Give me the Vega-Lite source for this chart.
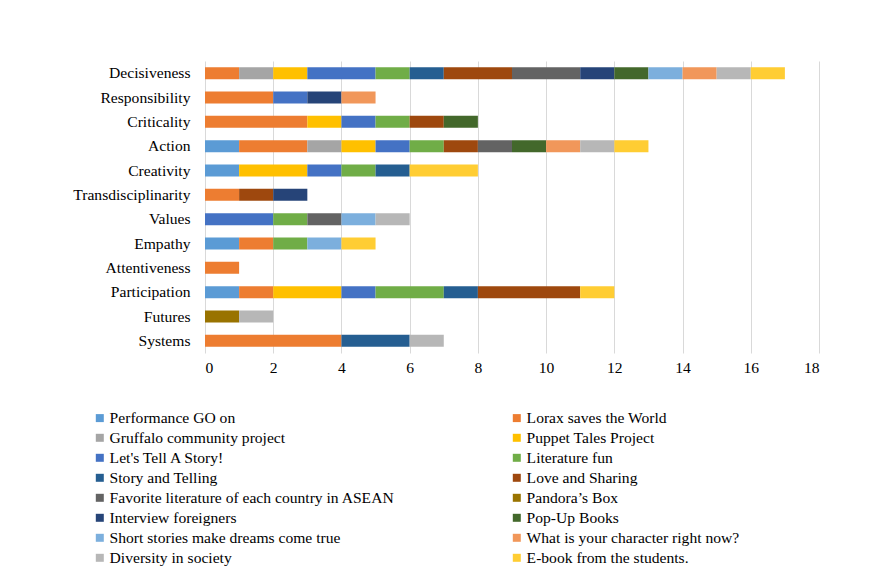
{
  "$schema": "https://vega.github.io/schema/vega-lite/v6.json",
  "autosize": "none",
  "width": 614,
  "height": 292,
  "padding": {"left": 205, "top": 61, "right": 55, "bottom": 224},
  "background": "white",
  "config": {
    "font": "Liberation Serif",
    "view": {"stroke": null}
  },
  "data": {
    "values": [
      {"skill": "Decisiveness", "project": "Lorax saves the World", "k": 2, "n": 1},
      {"skill": "Decisiveness", "project": "Gruffalo community project", "k": 3, "n": 1},
      {"skill": "Decisiveness", "project": "Puppet Tales Project", "k": 4, "n": 1},
      {"skill": "Decisiveness", "project": "Let's Tell A Story!", "k": 5, "n": 2},
      {"skill": "Decisiveness", "project": "Literature fun", "k": 6, "n": 1},
      {"skill": "Decisiveness", "project": "Story and Telling", "k": 7, "n": 1},
      {"skill": "Decisiveness", "project": "Love and Sharing", "k": 8, "n": 2},
      {"skill": "Decisiveness", "project": "Favorite literature of each country in ASEAN", "k": 9, "n": 2},
      {"skill": "Decisiveness", "project": "Interview foreigners", "k": 11, "n": 1},
      {"skill": "Decisiveness", "project": "Pop-Up Books", "k": 12, "n": 1},
      {"skill": "Decisiveness", "project": "Short stories make dreams come true", "k": 13, "n": 1},
      {"skill": "Decisiveness", "project": "What is your character right now?", "k": 14, "n": 1},
      {"skill": "Decisiveness", "project": "Diversity in society", "k": 15, "n": 1},
      {"skill": "Decisiveness", "project": "E-book from the students.", "k": 16, "n": 1},
      {"skill": "Responsibility", "project": "Lorax saves the World", "k": 2, "n": 2},
      {"skill": "Responsibility", "project": "Let's Tell A Story!", "k": 5, "n": 1},
      {"skill": "Responsibility", "project": "Interview foreigners", "k": 11, "n": 1},
      {"skill": "Responsibility", "project": "What is your character right now?", "k": 14, "n": 1},
      {"skill": "Criticality", "project": "Lorax saves the World", "k": 2, "n": 3},
      {"skill": "Criticality", "project": "Puppet Tales Project", "k": 4, "n": 1},
      {"skill": "Criticality", "project": "Let's Tell A Story!", "k": 5, "n": 1},
      {"skill": "Criticality", "project": "Literature fun", "k": 6, "n": 1},
      {"skill": "Criticality", "project": "Love and Sharing", "k": 8, "n": 1},
      {"skill": "Criticality", "project": "Pop-Up Books", "k": 12, "n": 1},
      {"skill": "Action", "project": "Performance GO on", "k": 1, "n": 1},
      {"skill": "Action", "project": "Lorax saves the World", "k": 2, "n": 2},
      {"skill": "Action", "project": "Gruffalo community project", "k": 3, "n": 1},
      {"skill": "Action", "project": "Puppet Tales Project", "k": 4, "n": 1},
      {"skill": "Action", "project": "Let's Tell A Story!", "k": 5, "n": 1},
      {"skill": "Action", "project": "Literature fun", "k": 6, "n": 1},
      {"skill": "Action", "project": "Love and Sharing", "k": 8, "n": 1},
      {"skill": "Action", "project": "Favorite literature of each country in ASEAN", "k": 9, "n": 1},
      {"skill": "Action", "project": "Pop-Up Books", "k": 12, "n": 1},
      {"skill": "Action", "project": "What is your character right now?", "k": 14, "n": 1},
      {"skill": "Action", "project": "Diversity in society", "k": 15, "n": 1},
      {"skill": "Action", "project": "E-book from the students.", "k": 16, "n": 1},
      {"skill": "Creativity", "project": "Performance GO on", "k": 1, "n": 1},
      {"skill": "Creativity", "project": "Puppet Tales Project", "k": 4, "n": 2},
      {"skill": "Creativity", "project": "Let's Tell A Story!", "k": 5, "n": 1},
      {"skill": "Creativity", "project": "Literature fun", "k": 6, "n": 1},
      {"skill": "Creativity", "project": "Story and Telling", "k": 7, "n": 1},
      {"skill": "Creativity", "project": "E-book from the students.", "k": 16, "n": 2},
      {"skill": "Transdisciplinarity", "project": "Lorax saves the World", "k": 2, "n": 1},
      {"skill": "Transdisciplinarity", "project": "Love and Sharing", "k": 8, "n": 1},
      {"skill": "Transdisciplinarity", "project": "Interview foreigners", "k": 11, "n": 1},
      {"skill": "Values", "project": "Let's Tell A Story!", "k": 5, "n": 2},
      {"skill": "Values", "project": "Literature fun", "k": 6, "n": 1},
      {"skill": "Values", "project": "Favorite literature of each country in ASEAN", "k": 9, "n": 1},
      {"skill": "Values", "project": "Short stories make dreams come true", "k": 13, "n": 1},
      {"skill": "Values", "project": "Diversity in society", "k": 15, "n": 1},
      {"skill": "Empathy", "project": "Performance GO on", "k": 1, "n": 1},
      {"skill": "Empathy", "project": "Lorax saves the World", "k": 2, "n": 1},
      {"skill": "Empathy", "project": "Literature fun", "k": 6, "n": 1},
      {"skill": "Empathy", "project": "Short stories make dreams come true", "k": 13, "n": 1},
      {"skill": "Empathy", "project": "E-book from the students.", "k": 16, "n": 1},
      {"skill": "Attentiveness", "project": "Lorax saves the World", "k": 2, "n": 1},
      {"skill": "Participation", "project": "Performance GO on", "k": 1, "n": 1},
      {"skill": "Participation", "project": "Lorax saves the World", "k": 2, "n": 1},
      {"skill": "Participation", "project": "Puppet Tales Project", "k": 4, "n": 2},
      {"skill": "Participation", "project": "Let's Tell A Story!", "k": 5, "n": 1},
      {"skill": "Participation", "project": "Literature fun", "k": 6, "n": 2},
      {"skill": "Participation", "project": "Story and Telling", "k": 7, "n": 1},
      {"skill": "Participation", "project": "Love and Sharing", "k": 8, "n": 3},
      {"skill": "Participation", "project": "E-book from the students.", "k": 16, "n": 1},
      {"skill": "Futures", "project": "Pandora’s Box", "k": 10, "n": 1},
      {"skill": "Futures", "project": "Diversity in society", "k": 15, "n": 1},
      {"skill": "Systems", "project": "Lorax saves the World", "k": 2, "n": 4},
      {"skill": "Systems", "project": "Story and Telling", "k": 7, "n": 2},
      {"skill": "Systems", "project": "Diversity in society", "k": 15, "n": 1}
    ]
  },
  "mark": {"type": "bar", "size": 12},
  "encoding": {
    "y": {
      "field": "skill",
      "type": "nominal",
      "sort": ["Decisiveness", "Responsibility", "Criticality", "Action", "Creativity", "Transdisciplinarity", "Values", "Empathy", "Attentiveness", "Participation", "Futures", "Systems"],
      "title": null,
      "axis": {"ticks": false, "domain": false, "labelFontSize": 15.6, "labelColor": "#000000", "labelPadding": 15, "labelLimit": 300}
    },
    "x": {
      "field": "n",
      "type": "quantitative",
      "stack": "zero",
      "scale": {"domain": [0, 18], "nice": false},
      "title": null,
      "axis": {"values": [0, 2, 4, 6, 8, 10, 12, 14, 16, 18], "ticks": false, "domain": false, "grid": true, "gridColor": "#D9D9D9", "labelFontSize": 15.6, "labelColor": "#000000", "labelPadding": 7, "format": "d"}
    },
    "order": {"field": "k", "type": "quantitative", "sort": "ascending"},
    "color": {
      "field": "project",
      "type": "nominal",
      "scale": {
        "domain": ["Performance GO on", "Gruffalo community project", "Let's Tell A Story!", "Story and Telling", "Favorite literature of each country in ASEAN", "Interview foreigners", "Short stories make dreams come true", "Diversity in society", "Lorax saves the World", "Puppet Tales Project", "Literature fun", "Love and Sharing", "Pandora’s Box", "Pop-Up Books", "What is your character right now?", "E-book from the students."],
        "range": ["#5B9BD5", "#A5A5A5", "#4472C4", "#255E91", "#636363", "#264478", "#7CAFDD", "#B7B7B7", "#ED7D31", "#FFC000", "#70AD47", "#9E480E", "#997300", "#43682B", "#F1975A", "#FFCD33"]
      },
      "legend": {
        "title": null,
        "orient": "none",
        "legendX": -113,
        "legendY": 349,
        "columns": 2,
        "columnPadding": 114,
        "rowPadding": 3,
        "symbolType": "square",
        "symbolSize": 64,
        "symbolStrokeWidth": 0,
        "labelFontSize": 15.6,
        "labelColor": "#000000",
        "labelOffset": 2,
        "labelLimit": 400
      }
    }
  }
}
